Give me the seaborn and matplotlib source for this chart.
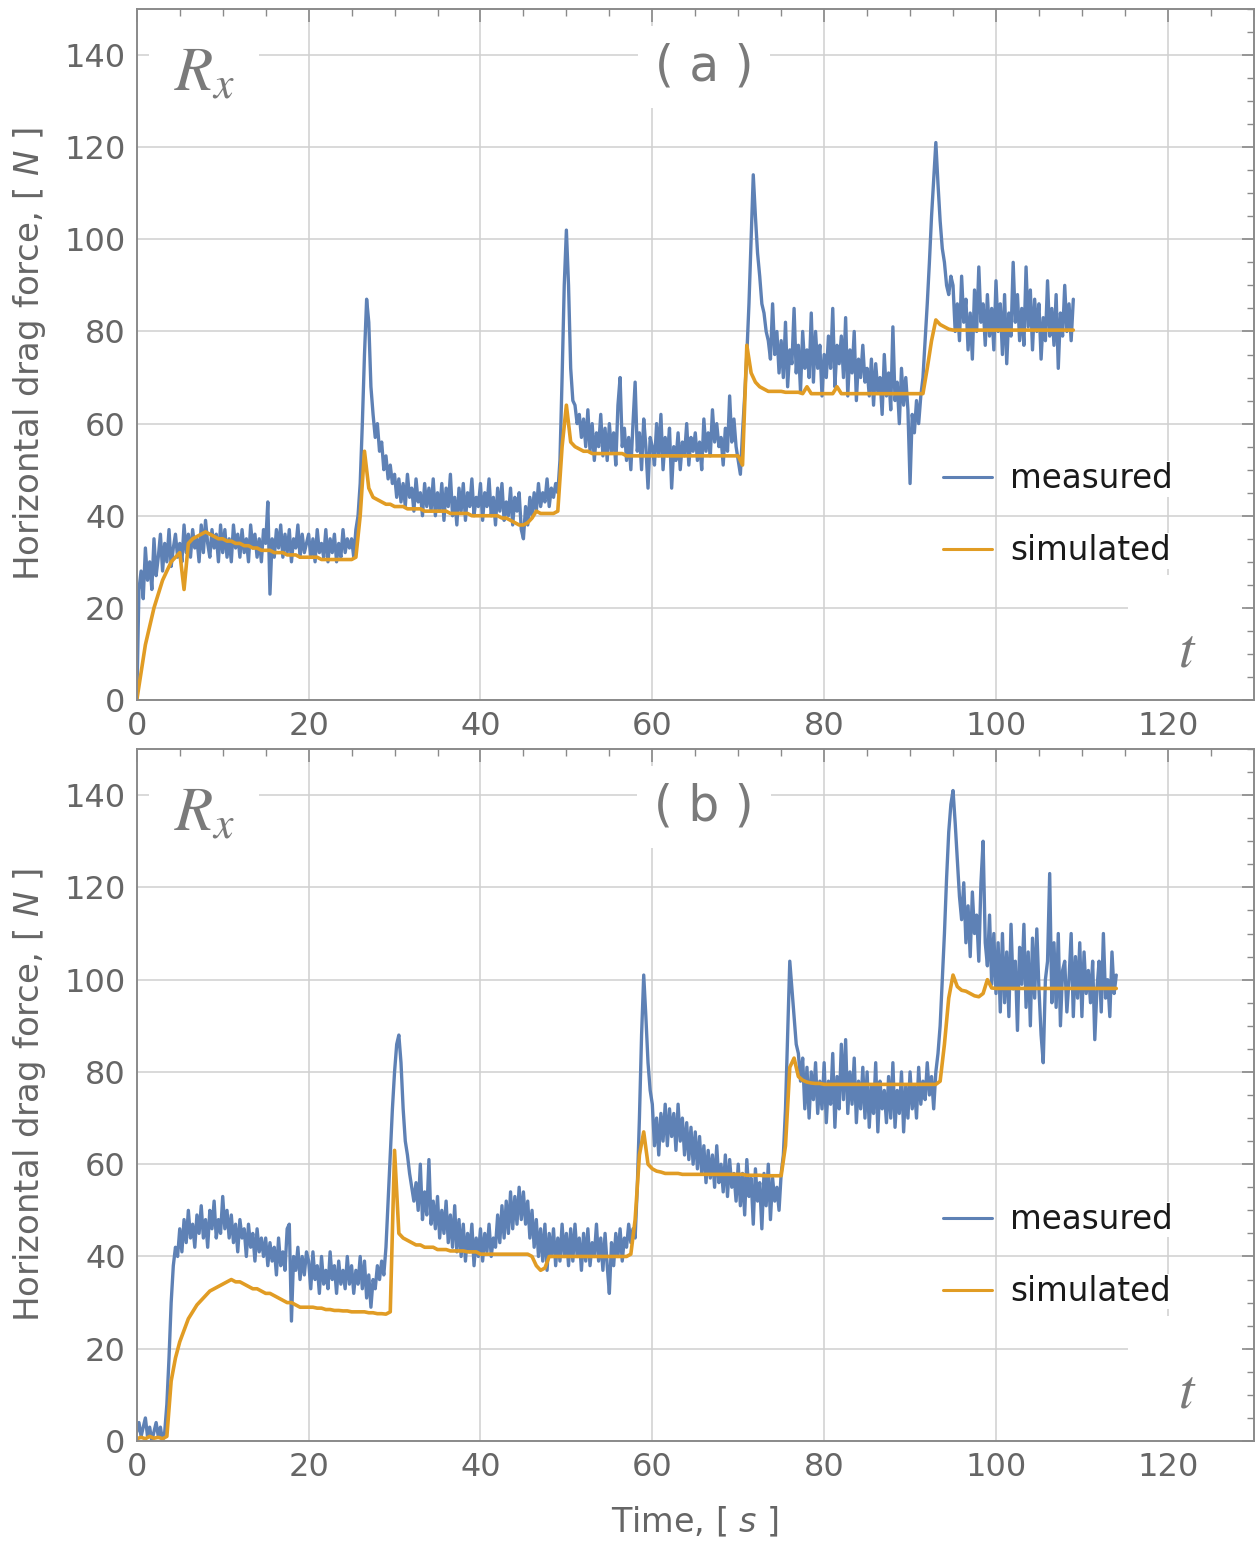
import numpy as np
import pandas as pd
import seaborn as sns
import matplotlib.pyplot as plt
from matplotlib.ticker import MultipleLocator

sns.set_theme(style="white")
plt.rcParams['font.family'] = ['DejaVu Sans']

# ---------------- data ----------------
# measured series sampled every 0.25 s, simulated series every 0.5 s
T_STEP_MEAS = 0.25
T_STEP_SIM = 0.5

measured_a = [
    0, 24, 28, 22, 33, 26, 30, 24, 35, 27, 31, 36, 28, 34, 30, 37, 29, 33, 36, 31,
    34, 30, 38, 32, 36, 31, 37, 33, 35, 30, 38, 32, 39, 34, 31, 37, 33, 36, 30, 38,
    32, 37, 31, 35, 30, 38, 33, 36, 31, 37, 32, 35, 30, 38, 33, 36, 31, 35, 30, 37,
    34, 43, 23, 35, 31, 37, 33, 38, 31, 36, 32, 37, 30, 35, 33, 38, 31, 36, 32, 34,
    36, 31, 35, 30, 37, 32, 34, 31, 37, 30, 35, 32, 36, 30, 34, 31, 37, 32, 35, 33,
    35, 31, 37, 40, 47, 60, 75, 87, 82, 68, 62, 57, 60, 54, 56, 50, 53, 48, 51, 47,
    49, 44, 48, 43, 47, 42, 49, 44, 46, 41, 48, 43, 45, 40, 47, 42, 46, 41, 48, 40,
    45, 41, 47, 39, 46, 42, 49, 40, 44, 38, 46, 41, 47, 39, 45, 42, 48, 40, 44, 42,
    47, 39, 45, 42, 48, 40, 44, 38, 46, 41, 47, 39, 43, 40, 46, 38, 44, 41, 45, 37,
    35, 42, 38, 44, 40, 45, 41, 47, 42, 45, 43, 48, 42, 46, 44, 47, 45, 52, 70, 90,
    102, 90, 72, 65, 64, 60, 62, 57, 61, 55, 63, 54, 60, 52, 58, 55, 62, 53, 59, 52,
    60, 54, 58, 51, 64, 70, 55, 59, 52, 57, 50, 60, 69, 54, 58, 50, 61, 55, 46, 57,
    55, 51, 60, 53, 62, 50, 57, 53, 59, 46, 55, 52, 58, 50, 56, 53, 60, 51, 57, 54,
    58, 52, 56, 50, 61, 54, 58, 53, 63, 56, 60, 55, 57, 51, 59, 54, 66, 56, 61, 55,
    52, 49, 58, 66, 75, 86, 100, 114, 105, 97, 92, 86, 84, 80, 78, 74, 86, 75, 80, 71,
    78, 70, 82, 68, 76, 73, 85, 71, 77, 67, 80, 72, 76, 70, 84, 69, 80, 72, 77, 66,
    75, 70, 79, 72, 85, 68, 77, 73, 79, 70, 83, 66, 76, 71, 80, 65, 74, 70, 77, 69,
    72, 66, 74, 64, 73, 67, 70, 62, 75, 66, 71, 63, 81, 65, 69, 60, 72, 64, 70, 63,
    47, 62, 58, 65, 60, 66, 70, 78, 86, 95, 105, 113, 121, 112, 104, 98, 95, 90, 88, 92,
    90, 80, 86, 78, 92, 82, 87, 76, 84, 74, 89, 80, 94, 82, 86, 77, 88, 79, 85, 76,
    91, 80, 86, 75, 88, 73, 84, 79, 95, 82, 88, 78, 85, 77, 94, 81, 89, 76, 87, 80,
    86, 74, 83, 78, 91, 79, 85, 77, 88, 72, 84, 79, 90, 80, 86, 78, 87,
]

simulated_a = [
    0, 6, 12, 16, 20, 23, 26, 28, 30, 31,
    32, 24, 34, 35, 35.5, 36, 36.5, 36, 35.5, 35,
    35, 34.5, 34.5, 34, 34, 33.5, 33.5, 33, 33, 32.5,
    32.5, 32.5, 32, 32, 32, 31.5, 31.5, 31.5, 31, 31,
    31, 31, 31, 30.5, 30.5, 30.5, 30.5, 30.5, 30.5, 30.5,
    30.5, 31, 40, 54, 46, 44, 43.5, 43, 42.5, 42.5,
    42, 42, 42, 41.5, 41.5, 41.5, 41.5, 41, 41, 41,
    41, 41, 41, 40.5, 40.5, 40.5, 40.5, 40.5, 40, 40,
    40, 40, 40, 40, 40, 39.5, 39.5, 39, 38.5, 38,
    38, 38.5, 39.5, 41, 40.5, 40.5, 40.5, 40.5, 41, 55,
    64, 56, 55, 54.5, 54, 54, 53.5, 53.5, 53.5, 53.5,
    53.5, 53.5, 53.5, 53.5, 53, 53, 53, 53, 53, 53,
    53, 53, 53, 53, 53, 53, 53, 53, 53, 53,
    53, 53, 53, 53, 53, 53, 53, 53, 53, 53,
    53, 51, 77, 71, 69, 68, 67.5, 67, 67, 67,
    67, 66.8, 66.8, 66.8, 66.8, 66.5, 68, 66.5, 66.5, 66.5,
    66.5, 66.5, 66.5, 68, 66.5, 66.5, 66.5, 66.5, 66.5, 66.5,
    66.5, 66.5, 66.5, 66.5, 66.5, 66.5, 66.5, 66.5, 66.5, 66.5,
    66.5, 66.5, 66.5, 66.5, 72, 78, 82.5, 81.5, 81, 80.5,
    80.3, 80.3, 80.3, 80.3, 80.3, 80.3, 80.3, 80.3, 80.3, 80.3,
    80.3, 80.3, 80.3, 80.3, 80.3, 80.3, 80.3, 80.3, 80.3, 80.3,
    80.3, 80.3, 80.3, 80.3, 80.3, 80.3, 80.3, 80.3, 80.3,
]

measured_b = [
    2, 4, 1, 3, 5, 1, 3, 0, 2, 4, 1, 3, 0, 2, 8, 18, 30, 38, 42, 40,
    46, 41, 48, 43, 50, 44, 47, 42, 49, 45, 51, 44, 48, 42, 50, 46, 52, 44, 48, 45,
    53, 46, 50, 44, 49, 43, 47, 41, 48, 44, 46, 40, 47, 42, 45, 39, 46, 41, 44, 40,
    44, 38, 43, 39, 42, 36, 44, 38, 41, 37, 46, 47, 26, 40, 37, 42, 35, 40, 36, 41,
    39, 33, 41, 35, 38, 32, 40, 34, 37, 33, 41, 35, 38, 32, 39, 34, 37, 33, 40, 34,
    38, 32, 37, 34, 40, 33, 39, 31, 36, 29, 35, 33, 38, 35, 39, 36, 42, 52, 62, 72,
    80, 86, 88, 82, 72, 65, 62, 58, 55, 52, 56, 50, 60, 48, 54, 49, 61, 47, 52, 46,
    53, 44, 50, 45, 52, 43, 49, 42, 51, 41, 48, 40, 47, 39, 45, 41, 47, 38, 44, 40,
    46, 39, 45, 41, 47, 40, 44, 42, 49, 43, 51, 44, 52, 45, 54, 46, 53, 47, 55, 48,
    54, 47, 52, 44, 50, 42, 48, 40, 46, 39, 47, 37, 45, 40, 46, 38, 44, 39, 47, 40,
    45, 38, 46, 39, 47, 40, 44, 37, 45, 39, 46, 38, 43, 40, 47, 39, 44, 37, 45, 38,
    32, 43, 38, 45, 40, 46, 39, 44, 42, 47, 43, 46, 44, 55, 70, 88, 101, 92, 82, 76,
    73, 64, 70, 62, 71, 65, 73, 64, 72, 66, 71, 63, 73, 65, 70, 62, 69, 61, 68, 60,
    67, 59, 66, 58, 64, 56, 63, 57, 62, 55, 64, 56, 60, 54, 62, 53, 61, 55, 58, 52,
    60, 51, 58, 49, 61, 53, 57, 47, 59, 52, 56, 46, 58, 51, 60, 48, 57, 52, 55, 50,
    58, 62, 72, 88, 104, 98, 92, 86, 84, 78, 83, 72, 81, 70, 80, 74, 82, 71, 78, 72,
    82, 69, 78, 73, 84, 68, 79, 72, 86, 74, 87, 71, 80, 73, 83, 69, 78, 72, 81, 70,
    80, 68, 77, 71, 82, 67, 78, 72, 76, 69, 79, 70, 82, 68, 76, 71, 80, 67, 77, 70,
    80, 72, 77, 70, 81, 73, 78, 74, 82, 75, 79, 72, 80, 84, 90, 100, 110, 122, 132, 138,
    141, 134, 126, 118, 113, 121, 108, 116, 105, 119, 110, 114, 104, 121, 130, 108, 103, 114, 99, 110,
    97, 108, 93, 110, 95, 106, 92, 112, 98, 104, 89, 107, 99, 112, 94, 106, 90, 109, 96, 111,
    98, 88, 82, 100, 104, 123, 95, 108, 94, 110, 90, 102, 104, 93, 100, 110, 92, 105, 96, 108,
    92, 106, 97, 102, 95, 104, 87, 98, 104, 93, 110, 96, 100, 92, 106, 97, 101,
]

simulated_b = [
    0.5, 0.8, 0.5, 1, 0.6, 0.8, 0.5, 1, 13, 18,
    21.5, 24, 26.5, 28, 29.5, 30.5, 31.5, 32.5, 33, 33.5,
    34, 34.5, 35, 34.5, 34.5, 34, 33.5, 33, 33, 32.5,
    32, 32, 31.5, 31, 30.5, 30, 30, 29.5, 29, 29,
    29, 29, 28.8, 28.8, 28.5, 28.5, 28.3, 28.3, 28.2, 28.2,
    28, 28, 28, 28, 27.8, 27.8, 27.6, 27.6, 27.5, 28,
    63, 45, 44, 43.5, 43, 42.5, 42.5, 42, 42, 42,
    41.5, 41.5, 41.5, 41.2, 41.2, 41.2, 41.2, 41, 41, 41,
    40.5, 40.5, 40.5, 40.5, 40.5, 40.5, 40.5, 40.5, 40.5, 40.5,
    40.5, 40.5, 40, 38, 37, 37.5, 40, 40, 40, 40,
    40, 40, 40, 40, 40, 40, 40, 40, 40, 40,
    40, 40, 40, 40, 40, 40.5, 48, 62, 67, 60,
    59, 58.5, 58.3, 58, 58, 58, 58, 57.8, 57.8, 57.8,
    57.8, 57.8, 57.8, 57.8, 57.8, 57.8, 57.8, 57.8, 57.8, 57.8,
    57.8, 57.8, 57.6, 57.6, 57.6, 57.6, 57.5, 57.5, 57.5, 57.5,
    57.5, 64, 81, 83, 79, 78.2, 77.8, 77.6, 77.5, 77.5,
    77.3, 77.3, 77.3, 77.3, 77.3, 77.3, 77.3, 77.3, 77.3, 77.3,
    77.3, 77.3, 77.3, 77.3, 77.3, 77.3, 77.3, 77.3, 77.3, 77.3,
    77.3, 77.3, 77.3, 77.3, 77.3, 77.3, 77.3, 78, 86, 96,
    101, 98.5, 97.7, 97.5, 97, 96.5, 96.3, 97, 100, 98.2,
    98.1, 98.1, 98.1, 98.1, 98.1, 98.1, 98.1, 98.1, 98.1, 98.1,
    98.1, 98.1, 98.1, 98.1, 98.1, 98.1, 98.1, 98.1, 98.1, 98.1,
    98.1, 98.1, 98.1, 98.1, 98.1, 98.1, 98.1, 98.1, 98.1,
]

panel_labels = ["( a )", "( b )"]
series_names = ["measured", "simulated"]
x_ticks = [0, 20, 40, 60, 80, 100, 120]
y_ticks = [0, 20, 40, 60, 80, 100, 120, 140]

BLUE = "#5E81B5"
ORANGE = "#E19C24"
GRID = "#d0d0d0"
FRAME = "#8a8a8a"
TICKLBL = "#666666"


def make_frame(measured, simulated):
    n_m, n_s = len(measured), len(simulated)
    return pd.DataFrame({
        "time": np.concatenate([np.arange(n_m) * T_STEP_MEAS, np.arange(n_s) * T_STEP_SIM]),
        "force": np.concatenate([measured, simulated]),
        "series": [series_names[0]] * n_m + [series_names[1]] * n_s,
    })


fig = plt.figure(figsize=(12.55, 15.44), dpi=100)
ax_a = fig.add_axes([0.109, 0.5466, 0.890, 0.4476])
ax_b = fig.add_axes([0.109, 0.0667, 0.890, 0.4482])

for ax, meas, sim, plabel in [(ax_a, measured_a, simulated_a, panel_labels[0]),
                               (ax_b, measured_b, simulated_b, panel_labels[1])]:
    ax.set_axisbelow(False)
    df = make_frame(meas, sim)
    sns.lineplot(data=df[df.series == series_names[0]], x="time", y="force", ax=ax,
                 color=BLUE, linewidth=2.4, label=series_names[0],
                 estimator=None, sort=False, zorder=2)
    sns.lineplot(data=df[df.series == series_names[1]], x="time", y="force", ax=ax,
                 color=ORANGE, linewidth=2.6, label=series_names[1],
                 estimator=None, sort=False, zorder=2.1)

    ax.set_xlim(0, 130)
    ax.set_ylim(0, 150)
    ax.set_xticks(x_ticks)
    ax.set_yticks(y_ticks)
    ax.xaxis.set_minor_locator(MultipleLocator(5))
    ax.yaxis.set_minor_locator(MultipleLocator(5))
    ax.tick_params(which="both", direction="in", top=True, right=True,
                   color=FRAME, labelcolor=TICKLBL, labelsize=23)
    ax.tick_params(which="major", length=9, width=1.2, pad=8)
    ax.tick_params(which="minor", length=5, width=1.0)
    for sp in ax.spines.values():
        sp.set_color(FRAME)
        sp.set_linewidth(1.4)
        sp.set_zorder(3)

    for xv in ax.get_xticks():
        ax.axvline(xv, color=GRID, lw=1.1, zorder=0.5)
    for yv in ax.get_yticks():
        ax.axhline(yv, color=GRID, lw=1.1, zorder=0.5)

    ax.set_xlabel("")
    ax.set_ylabel("Horizontal drag force, [ $N$ ]", fontsize=24.5, color=TICKLBL, labelpad=12)
    ax.yaxis.label.set_math_fontfamily("dejavusans")

    ax.text(7.8, 136.0, "$R_x$", fontsize=45, color="#7a7a7a", ha="center", va="center",
            math_fontfamily="stix",
            bbox=dict(facecolor="white", edgecolor="none", boxstyle="square,pad=0.4"), zorder=1)
    ax.text(66.0, 137.5, plabel, fontsize=35, color="#7a7a7a", ha="center", va="center",
            bbox=dict(facecolor="white", edgecolor="none", boxstyle="square,pad=0.35"), zorder=1)
    ax.text(122.2, 10.5, "$t$", fontsize=40, color="#7a7a7a", ha="center", va="center",
            math_fontfamily="stix",
            bbox=dict(facecolor="white", edgecolor="none", boxstyle="square,pad=0.9"), zorder=1)

    leg = ax.legend(loc="center left", bbox_to_anchor=(0.71, 0.268), frameon=False,
                    fontsize=23.5, handlelength=1.5, handletextpad=0.55, labelspacing=1.2,
                    borderaxespad=0)
    leg.set_zorder(1)
    for txt in leg.get_texts():
        txt.set_color("#1a1a1a")
        txt.set_bbox(dict(facecolor="white", edgecolor="none", pad=1))
    for h in leg.get_lines():
        h.set_linewidth(2.2)

ax_b.set_xlabel("Time, [ $s$ ]", fontsize=24, color=TICKLBL, labelpad=16)
ax_b.xaxis.label.set_math_fontfamily("dejavusans")

fig.savefig("out.png", dpi=100, facecolor="white")
